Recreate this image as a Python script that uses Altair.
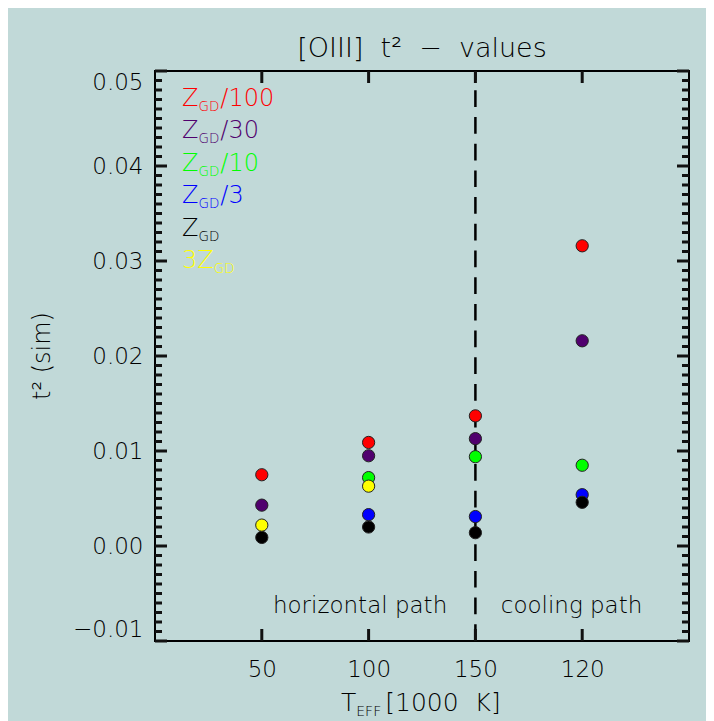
import altair as alt
import pandas as pd

# ---------------- data ----------------
x_labels = ["50", "100", "150", "120"]      # T_eff tick labels [1000 K]
x_pos = [1, 2, 3, 4]
series_names = ["Z/100", "Z/30", "Z/10", "Z/3", "Z", "3Z"]
series_colors = ["#ff0000", "#50006e", "#00ff00", "#0000ff", "#000000", "#ffff00"]
t2_z100 = [0.0075, 0.0109, 0.0137, 0.0316]
t2_z30 = [0.0043, 0.0095, 0.0113, 0.0216]
t2_z10 = [None, 0.0072, 0.0094, 0.0085]
t2_z3 = [None, 0.0033, 0.0031, 0.0054]
t2_z1 = [0.0009, 0.0020, 0.0014, 0.0046]
t2_3z = [0.0022, 0.0063, None, None]
legend_prefix = ["Z", "Z", "Z", "Z", "Z", "3Z"]
legend_sub = ["GD", "GD", "GD", "GD", "GD", "GD"]
legend_suffix = ["/100", "/30", "/10", "/3", "", ""]
y_major = [-0.01, 0.0, 0.01, 0.02, 0.03, 0.04, 0.05]
annotations = ["horizontal path", "cooling path"]

# ---------------- layout ----------------
W, H = 534, 570
FONT = "DejaVu Sans"
FW = 300
BG = "#c1d9d8"
TICK = "#111111"

all_vals = [t2_z100, t2_z30, t2_z10, t2_z3, t2_z1, t2_3z]
rows = []
for k, (name, vals) in enumerate(zip(series_names, all_vals)):
    for xp, v in zip(x_pos, vals):
        if v is not None:
            rows.append({"series": name, "order": k, "x": xp, "t2": v})
df = pd.DataFrame(rows)

xs = alt.Scale(domain=[0, 5], nice=False, zero=False)
ys = alt.Scale(domain=[-0.01, 0.05], nice=False, zero=False)
label_expr = "[" + ",".join(["''"] + ["'" + l + "'" for l in x_labels]) + "][datum.value]"
xaxis = alt.Axis(values=x_pos, labelExpr=label_expr, ticks=False, domain=False, grid=False,
                 labelPadding=17, labelFontSize=23, labelFont=FONT, labelFontWeight=FW,
                 labelColor="black", title=None)
yaxis = alt.Axis(values=y_major, format=".2f", ticks=False, domain=False, grid=False,
                 labelPadding=12, labelFlush=True, labelFontSize=23, labelFont=FONT,
                 labelFontWeight=FW, labelColor="black", title=None)


def X(f):
    return alt.X(f, type="quantitative", scale=xs, axis=xaxis)


def Y(f):
    return alt.Y(f, type="quantitative", scale=ys, axis=yaxis)


layers = []

# dashed divider at the third position
layers.append(alt.Chart(pd.DataFrame({"p": [3]})).mark_rule(
    color="black", strokeWidth=2.5, strokeDash=[16.7, 10]).encode(
    x=X("p"), y=alt.value(H), y2=alt.value(0)))

# path annotations
df_ann = pd.DataFrame({"t": annotations, "x": [1.92, 3.90], "y": [-0.0063, -0.0063]})
layers.append(alt.Chart(df_ann).mark_text(fontSize=23, font=FONT, fontWeight=FW, color="black",
                                          baseline="middle").encode(
    x=X("x"), y=Y("y"), text="t:N"))

# data points
layers.append(alt.Chart(df).mark_circle(size=150, opacity=1, stroke="#222222", strokeWidth=1).encode(
    x=X("x"), y=Y("t2"),
    color=alt.Color("series:N", scale=alt.Scale(domain=series_names, range=series_colors), legend=None),
    order=alt.Order("order:Q")))

# y ticks (inward, both sides) -- short rules, major ones longer
minor_vals = [round(-0.01 + i * 0.001, 3) for i in range(61)]
tick_rows = []
for v in minor_vals:
    is_major = any(abs(v - m) < 1e-9 for m in y_major)
    tick_rows.append({"v": v, "major": is_major})
df_yt = pd.DataFrame(tick_rows)
for side in ("left", "right"):
    for major, ln in [(False, 7), (True, 12)]:
        d = df_yt[df_yt["major"] == major].copy()
        d["side"] = side
        x0 = 0 if side == "left" else W
        x1 = ln if side == "left" else W - ln
        layers.append(alt.Chart(d).mark_rule(color=TICK, strokeWidth=3).encode(
            y=Y("v"), x=alt.value(x0), x2=alt.value(x1)))

# x ticks (inward, top and bottom)
for side in ("bottom", "top"):
    d = pd.DataFrame({"p": x_pos, "side": [side] * len(x_pos)})
    y0, y1 = (H, H - 12) if side == "bottom" else (0, 12)
    layers.append(alt.Chart(d).mark_rule(color=TICK, strokeWidth=3).encode(
        x=X("p"), y=alt.value(y0), y2=alt.value(y1)))


def txt(s, px, py, size, color, align="left", angle=None, baseline="alphabetic"):
    kw = dict(align=align, baseline=baseline, fontSize=size, font=FONT, fontWeight=FW, color=color)
    if angle is not None:
        kw["angle"] = angle
    return alt.Chart(pd.DataFrame({"t": [s]})).mark_text(**kw).encode(
        text="t:N", x=alt.value(px), y=alt.value(py))


ADV = {"Z": 0.685, "3": 0.636, "G": 0.775, "D": 0.770, "T": 0.611, "E": 0.632, "F": 0.575}


def width(s, size):
    return sum(ADV.get(c, 0.6) for c in s) * size


# legend
for i in range(6):
    py = 35 + i * 32.4
    px = 27
    c = series_colors[i]
    layers.append(txt(legend_prefix[i], px, py, 24, c))
    px2 = px + width(legend_prefix[i], 24)
    layers.append(txt(legend_sub[i], px2, py + 5, 13.5, c))
    px3 = px2 + width(legend_sub[i], 13.5) + 1
    if legend_suffix[i]:
        layers.append(txt(legend_suffix[i], px3, py, 24, c))

# x axis title T_EFF [1000 K]
tx = 186
layers.append(txt("T", tx, H + 70, 25, "black"))
ex = tx + width("T", 25)
layers.append(txt("EFF", ex, H + 75, 14, "black"))
layers.append(txt("[1000\u00a0\u00a0K]", ex + width("EFF", 14) + 4, H + 70, 25, "black"))

# y axis title
layers.append(txt("t²\u00a0(sim)", -112, H / 2, 24, "black", align="center", angle=270,
                  baseline="middle"))

# chart title
layers.append(txt("[OIII]\u00a0\u00a0t²\u00a0\u00a0−\u00a0\u00a0values", W / 2, -14, 27, "black",
                  align="center"))

chart = alt.layer(*layers).properties(
    width=W, height=H,
    autosize=alt.AutoSizeParams(type="none"),
    padding={"left": 147, "top": 63, "right": 17, "bottom": 80},
    background=BG,
).configure_view(stroke="black", strokeWidth=2, fill=None)

chart.save("out.html", embed_options={"renderer": "svg", "actions": False})
